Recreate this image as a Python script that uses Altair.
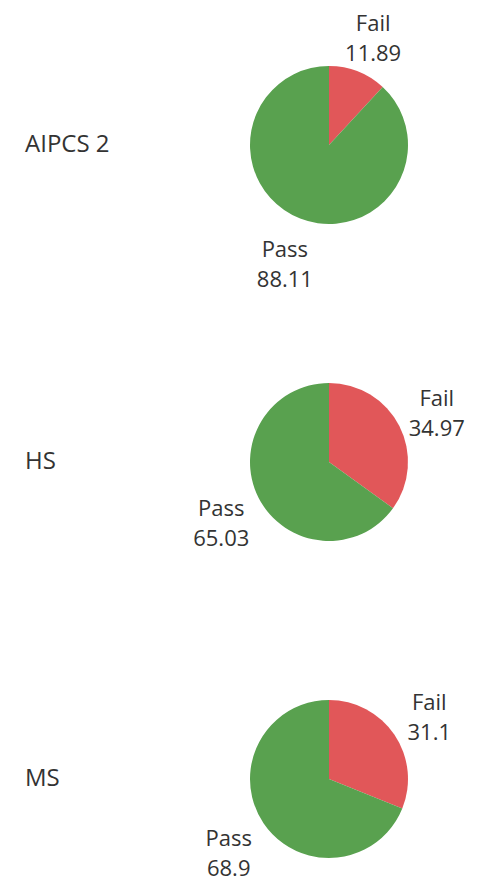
import altair as alt
import pandas as pd

groups = ["AIPCS 2", "HS", "MS"]
fail_pct = [11.89, 34.97, 31.1]
pass_pct = [88.11, 65.03, 68.9]
results = ["Fail", "Pass"]
colors = ["#E15759", "#59A14F"]

rows = []
for g, f, p in zip(groups, fail_pct, pass_pct):
    for i, (r, v) in enumerate(zip(results, [f, p])):
        rows.append({"Group": g, "Result": r, "Value": v, "ord": i, "Label": f"{r}\n{v}"})
df = pd.DataFrame(rows)
gdf = pd.DataFrame({"Group": groups})

FONT = "Open Sans"
yscale = alt.Scale(type="point", range=[137, 771], padding=0, domain=groups)
tscale = alt.Scale(domain=[0, 100])

base = alt.Chart(df).transform_window(
    end="sum(Value)", groupby=["Group"], sort=[alt.SortField("ord")], frame=[None, 0]
).transform_calculate(
    start="datum.end - datum.Value", mid="datum.end - datum.Value / 2"
)

arcs = base.mark_arc(outerRadius=79).encode(
    x=alt.value(321),
    y=alt.Y("Group:N", scale=yscale, axis=None),
    theta=alt.Theta("start:Q", scale=tscale),
    theta2="end:Q",
    color=alt.Color("Result:N", scale=alt.Scale(domain=results, range=colors), legend=None),
)

labels = base.mark_text(
    radius=121, lineBreak="\n", fontSize=22, font=FONT, color="#333333",
    lineHeight=30, baseline="middle", align="center", dy=-8
).encode(
    x=alt.value(321),
    y=alt.Y("Group:N", scale=yscale, axis=None),
    theta=alt.Theta("mid:Q", scale=tscale),
    text="Label:N",
)

rowlab = alt.Chart(gdf).mark_text(
    fontSize=24, font=FONT, color="#333333", align="left", baseline="middle"
).encode(
    x=alt.value(17),
    y=alt.Y("Group:N", scale=yscale, axis=None),
    text="Group:N",
)

chart = alt.layer(arcs, labels, rowlab).properties(
    width=463, height=876, padding=0,
    autosize=alt.AutoSizeParams(type="none"),
).configure_view(stroke=None)

chart.save("out.html", embed_options={"renderer": "svg", "actions": False})
